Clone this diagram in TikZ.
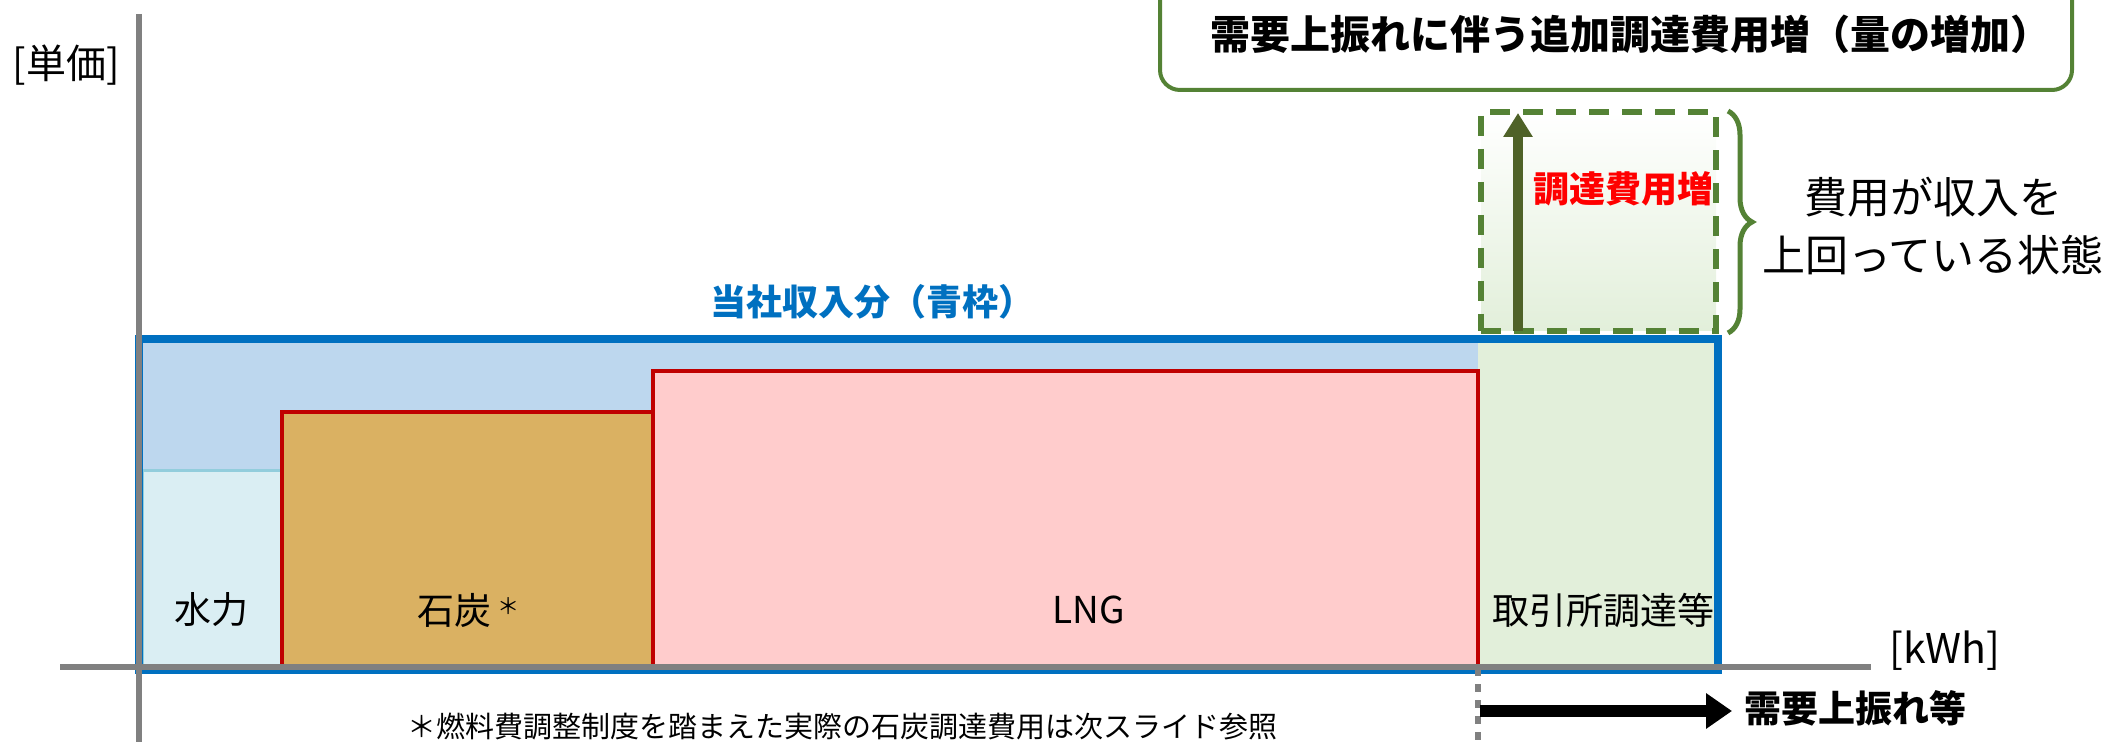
\documentclass[tikz,border=0pt]{standalone}
\usepackage{fontspec}
\setmainfont{Noto Sans CJK JP}
\usetikzlibrary{arrows.meta,fit,decorations.pathreplacing}
\definecolor{axisgray}{HTML}{808080}
\definecolor{blueline}{HTML}{0070C0}
\definecolor{bluefill}{HTML}{BDD7EE}
\definecolor{greenfill}{HTML}{E2EFDA}
\definecolor{hydrofill}{HTML}{DAEEF3}
\definecolor{hydroline}{HTML}{92CDDC}
\definecolor{coalfill}{HTML}{DAB162}
\definecolor{lngfill}{HTML}{FFCCCC}
\definecolor{redline}{HTML}{C00000}
\definecolor{greenline}{HTML}{548235}
\definecolor{arrowgreen}{HTML}{4F6228}
\definecolor{redtext}{HTML}{FF0000}
\begin{document}
\begin{tikzpicture}[x=0.5pt,y=-0.5pt,
  region/.style={inner sep=0pt,draw=none},
  fuelbox/.style={inner sep=0pt,line width=2pt,draw=redline},
  lbl/.style={font=\fontsize{18.5}{22}\selectfont,inner sep=0pt},
  axisline/.style={draw=axisgray,line width=3pt},
  garrow/.style={draw=arrowgreen,line width=5pt,-{Triangle[width=14pt,length=12pt]}},
  barrow/.style={draw=black,line width=6pt,-{Triangle[width=17pt,length=13pt]}}]
\useasboundingbox (0,0) rectangle (2103,742);
% income area fills
\node[fit={(139,339) (1478,669)},region,fill=bluefill] (blueregion) {};
\node[fit={(1478,339) (1718,669)},region,fill=greenfill] (greenregion) {};
% fuel boxes
\node[fit={(142,471) (282,666)},inner sep=0pt,fill=hydrofill,draw=hydroline,line width=1.5pt] (hydro) {};
\node[fit={(282,412) (653,666)},fuelbox,fill=coalfill] (coal) {};
\node[fit={(653,371) (1478,666)},fuelbox,fill=lngfill] (lng) {};
% blue frame
\node[fit={(139,339) (1718,670)},inner sep=0pt,draw=blueline,line width=4pt] (frame) {};
% excess cost box
\node[fit={(1481,112) (1716,331)},inner sep=0pt,draw=greenline,line width=3pt,
  dash pattern=on 10pt off 6.5pt,top color=white,bottom color=greenfill] (excess) {};
\coordinate (ga0) at (1518,331);
\coordinate (ga1) at (1518,113);
\draw[garrow] (ga0) -- (ga1);
\node[font=\fontsize{18}{22}\selectfont\bfseries,text=redtext,inner sep=0pt] (zoulbl) at (1623,189) {調達費用増};
% brace
\draw[draw=greenline,line width=2.5pt,decorate,decoration={brace,amplitude=12pt}] (1728,111) -- (1728,333);
\node[font=\fontsize{21.5}{29}\selectfont,align=center,inner sep=0pt] (state) at (1933,226) {費用が収入を\\上回っている状態};
% top box
\node[fit={(1160,-40) (2072,90)},inner sep=0pt,draw=greenline,line width=2pt,rounded corners=10pt] (topbox) {};
\node[font=\fontsize{20}{24}\selectfont\bfseries,inner sep=0pt] (title) at (1630,34) {需要上振れに伴う追加調達費用増（量の増加）};
% income label
\node[font=\fontsize{18}{22}\selectfont\bfseries,text=blueline,inner sep=0pt] (income) at (872,302) {当社収入分（青枠）};
% axes
\coordinate (yaxtop) at (139,14);
\coordinate (yaxbot) at (139,742);
\coordinate (xaxl) at (60,667);
\coordinate (xaxr) at (1871,667);
\draw[axisline] (yaxtop) -- (yaxbot);
\draw[axisline] (xaxl) -- (xaxr);
\node[lbl,font=\fontsize{20}{22}\selectfont] (ylbl) at (66,65) {[単価]};
\node[lbl,font=\fontsize{20.5}{22}\selectfont] (xlbl) at (1945,651) {[kWh]};
% box labels
\node[lbl] (hydrolbl) at (211,610) {水力};
\node[lbl] (coallbl) at (469,610) {石炭\,\raisebox{5pt}{\scalebox{0.6}{＊}}};
\node[lbl] (lnglbl) at (1089,610) {LNG};
\node[lbl] (exlbl) at (1603,610) {取引所調達等};
% bottom
\coordinate (dot0) at (1478,668);
\coordinate (dot1) at (1478,742);
\draw[draw=axisgray,line width=3pt,dash pattern=on 4pt off 4pt] (dot0) -- (dot1);
\coordinate (ba0) at (1480,711);
\coordinate (ba1) at (1732,711);
\draw[barrow] (ba0) -- (ba1);
\node[font=\fontsize{18.5}{22}\selectfont\bfseries,inner sep=0pt] (demand) at (1855,708) {需要上振れ等};
\node[font=\fontsize{14.5}{18}\selectfont,inner sep=0pt] (note) at (842,726) {＊燃料費調整制度を踏まえた実際の石炭調達費用は次スライド参照};
\end{tikzpicture}
\end{document}
